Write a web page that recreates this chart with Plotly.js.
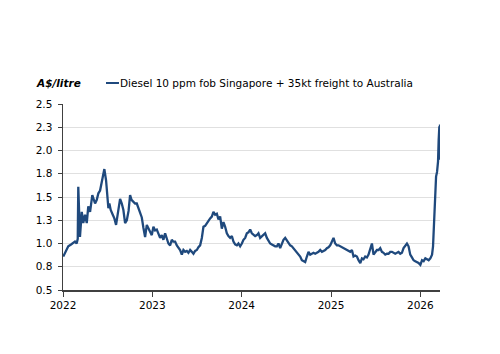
<!DOCTYPE html>
<html>
<head>
<meta charset="utf-8">
<script src="https://cdn.plot.ly/plotly-3.0.1.min.js"></script>
<style>html,body{margin:0;padding:0;background:#fff;}#chart{width:500px;height:354px;}</style>
</head>
<body>
<div id="chart"></div>
<script>
// Decimal-year time stamps (roughly weekly) and A$/litre values
var years = [
2022.003,2022.022,2022.059,2022.090,2022.112,2022.134,2022.153,2022.165,2022.171,2022.182,
2022.190,2022.210,2022.227,2022.246,2022.266,2022.283,2022.303,2022.328,2022.359,2022.378,
2022.396,2022.415,2022.434,2022.452,2022.463,2022.482,2022.496,2022.508,2022.519,2022.534,
2022.557,2022.575,2022.594,2022.620,2022.639,2022.658,2022.676,2022.695,2022.714,2022.734,
2022.751,2022.767,2022.784,2022.807,2022.826,2022.844,2022.863,2022.882,2022.900,2022.919,
2022.938,2022.956,2022.975,2022.994,2023.012,2023.031,2023.050,2023.068,2023.087,2023.106,
2023.124,2023.143,2023.162,2023.180,2023.199,2023.218,2023.236,2023.255,2023.274,2023.292,
2023.311,2023.330,2023.348,2023.367,2023.386,2023.404,2023.423,2023.442,2023.460,2023.479,
2023.498,2023.516,2023.535,2023.554,2023.572,2023.591,2023.610,2023.628,2023.647,2023.666,
2023.684,2023.703,2023.722,2023.740,2023.759,2023.778,2023.796,2023.815,2023.834,2023.852,
2023.871,2023.890,2023.908,2023.927,2023.946,2023.964,2023.983,2024.002,2024.020,2024.039,
2024.058,2024.076,2024.095,2024.114,2024.132,2024.151,2024.170,2024.188,2024.207,2024.226,
2024.244,2024.263,2024.282,2024.300,2024.319,2024.338,2024.356,2024.375,2024.394,2024.412,
2024.431,2024.450,2024.468,2024.487,2024.506,2024.524,2024.543,2024.562,2024.580,2024.599,
2024.618,2024.636,2024.655,2024.674,2024.692,2024.711,2024.730,2024.748,2024.767,2024.786,
2024.804,2024.823,2024.842,2024.860,2024.879,2024.898,2024.916,2024.935,2024.954,2024.972,
2024.991,2025.010,2025.028,2025.047,2025.066,2025.084,2025.103,2025.122,2025.140,2025.159,
2025.178,2025.196,2025.215,2025.234,2025.252,2025.271,2025.290,2025.308,2025.328,2025.346,
2025.364,2025.383,2025.402,2025.420,2025.439,2025.458,2025.476,2025.496,2025.514,2025.532,
2025.551,2025.570,2025.588,2025.607,2025.626,2025.644,2025.663,2025.682,2025.700,2025.719,
2025.738,2025.756,2025.775,2025.794,2025.812,2025.831,2025.850,2025.868,2025.887,2025.906,
2025.924,2025.943,2025.962,2025.980,2026.000,2026.019,2026.037,2026.056,2026.075,2026.093,
2026.112,2026.123,2026.131,2026.142,2026.160,2026.176,2026.187,2026.198,2026.205,2026.213,
2026.216,2026.220
];
var diesel = [
0.86,0.90,0.97,0.99,1.01,1.02,1.00,1.05,1.61,1.30,
1.07,1.34,1.22,1.31,1.22,1.40,1.34,1.52,1.43,1.47,
1.54,1.57,1.68,1.75,1.80,1.68,1.54,1.38,1.43,1.36,
1.31,1.27,1.20,1.36,1.48,1.43,1.36,1.22,1.25,1.35,
1.52,1.47,1.45,1.43,1.43,1.38,1.33,1.28,1.17,1.07,
1.20,1.16,1.13,1.09,1.18,1.14,1.15,1.11,1.06,1.09,
1.04,1.11,1.06,1.00,0.98,1.04,1.02,1.02,0.98,0.95,
0.93,0.88,0.93,0.91,0.92,0.90,0.93,0.91,0.89,0.92,
0.93,0.96,0.98,1.06,1.18,1.19,1.22,1.24,1.27,1.29,
1.34,1.31,1.32,1.26,1.29,1.16,1.23,1.18,1.11,1.08,
1.06,1.08,1.02,0.99,0.98,1.00,0.97,1.00,1.04,1.06,
1.11,1.12,1.15,1.11,1.09,1.08,1.09,1.11,1.06,1.08,
1.09,1.11,1.06,1.03,1.00,0.99,0.98,0.97,0.97,1.00,
0.95,1.00,1.04,1.06,1.03,1.00,0.98,0.97,0.95,0.93,
0.91,0.89,0.86,0.82,0.81,0.80,0.86,0.91,0.88,0.89,
0.90,0.89,0.90,0.91,0.93,0.91,0.92,0.93,0.95,0.96,
0.98,1.02,1.06,1.00,0.98,0.98,0.97,0.96,0.95,0.94,
0.93,0.92,0.91,0.93,0.86,0.87,0.86,0.82,0.79,0.84,
0.83,0.86,0.85,0.88,0.95,1.00,0.88,0.91,0.93,0.93,
0.95,0.91,0.90,0.88,0.89,0.89,0.91,0.91,0.90,0.89,
0.90,0.91,0.89,0.90,0.95,0.97,1.00,0.97,0.88,0.85,
0.82,0.81,0.80,0.79,0.77,0.82,0.81,0.84,0.83,0.82,
0.84,0.86,0.88,0.97,1.47,1.72,1.77,1.88,2.11,2.26,
1.90,2.28
];
var yearTicks = [2022, 2023, 2024, 2025, 2026];
var yTicks = [0.5, 0.75, 1.0, 1.25, 1.5, 1.75, 2.0, 2.25, 2.5];
var seriesName = 'Diesel 10 ppm fob Singapore + 35kt freight to Australia';
var unitLabel = 'A$/litre';

var lineColor = '#1F497D';
var font = 'DejaVu Sans, Verdana, sans-serif';

var trace = {
  x: years, y: diesel, type: 'scatter', mode: 'lines',
  line: {color: lineColor, width: 2.3}, name: seriesName, showlegend: false,
  hoverinfo: 'skip'
};

var layout = {
  width: 500, height: 354,
  margin: {l: 63, r: 60, t: 104, b: 64},
  paper_bgcolor: '#ffffff', plot_bgcolor: '#ffffff',
  font: {family: font, size: 10, color: '#000000'},
  xaxis: {
    range: [2022, years[years.length - 1]],
    tickvals: yearTicks, ticktext: yearTicks.map(String),
    showgrid: false, zeroline: false,
    showline: true, linecolor: '#404040', linewidth: 1.5,
    ticks: 'outside', ticklen: 5, tickcolor: '#404040', tickwidth: 1,
    tickfont: {family: font, size: 10.5, color: '#000'}
  },
  yaxis: {
    range: [0.5, 2.5],
    tickvals: yTicks, tickformat: '.1f',
    showgrid: true, gridcolor: '#e0e0e0', gridwidth: 1,
    zeroline: false,
    showline: true, linecolor: '#404040', linewidth: 1.5,
    ticks: 'outside', ticklen: 4, tickcolor: '#404040', tickwidth: 1,
    ticklabelstandoff: 3,
    tickfont: {family: font, size: 10.5, color: '#000'}
  },
  shapes: [{
    type: 'line', xref: 'paper', yref: 'paper',
    x0: 0.114, x1: 0.1485, y0: 1.113, y1: 1.113,
    line: {color: lineColor, width: 2}
  }],
  annotations: [{
    text: '<b><i>' + unitLabel + '</i></b>', xref: 'paper', yref: 'paper',
    x: -0.077, y: 1.113, xanchor: 'left', yanchor: 'middle', showarrow: false,
    font: {family: font, size: 10.5, color: '#000'}
  }, {
    text: seriesName, xref: 'paper', yref: 'paper',
    x: 0.146, y: 1.113, xanchor: 'left', yanchor: 'middle', showarrow: false,
    font: {family: font, size: 10.5, color: '#000'}
  }]
};

Plotly.newPlot('chart', [trace], layout, {displayModeBar: false, staticPlot: true});
</script>
</body>
</html>
